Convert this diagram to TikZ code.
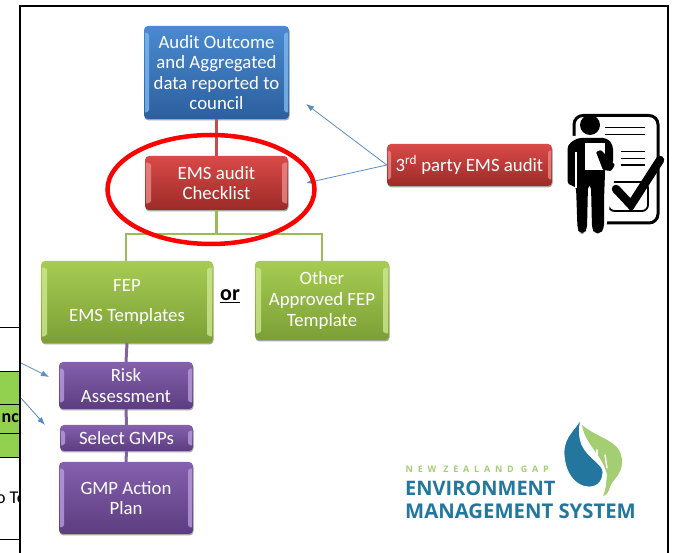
\documentclass[tikz,border=0pt]{standalone}
\usepackage{fontspec}
\setmainfont{Carlito}
\newfontfamily\logofont{Open Sans}
\usetikzlibrary{arrows.meta,shadows}
\definecolor{blueT}{HTML}{4A8AD0}\definecolor{blueB}{HTML}{2C5F9E}\definecolor{blueL}{HTML}{7DB8EE}
\definecolor{redT}{HTML}{D94A48}\definecolor{redB}{HTML}{9C2A28}\definecolor{redL}{HTML}{E88A88}
\definecolor{greenT}{HTML}{A6CC52}\definecolor{greenB}{HTML}{7C9F36}\definecolor{greenL}{HTML}{CDE78E}
\definecolor{purpT}{HTML}{8560AE}\definecolor{purpB}{HTML}{5C3D80}\definecolor{purpL}{HTML}{B79DDA}
\definecolor{arrowblue}{HTML}{5B8DC4}\definecolor{logoblue}{HTML}{23779F}\definecolor{logogreen}{HTML}{A3CF72}
\definecolor{cellgreen}{HTML}{92D050}\definecolor{linkredc}{HTML}{C0504D}\definecolor{linkgreenc}{HTML}{9BBB59}\definecolor{linkpurpc}{HTML}{8064A2}
\tikzset{
  glossy/.style n args={5}{draw=none,rounded corners=4pt,inner sep=0pt,
    top color=#1T,bottom color=#1B,text=white,align=center,
    font=\fontsize{18.8}{20.6}\selectfont,
    minimum width=#2pt,minimum height=#3pt,
    drop shadow={shadow xshift=0.5pt,shadow yshift=-1.5pt,opacity=.35,fill=black},
    path picture={
      \fill[#1L,opacity=.8,rounded corners=1pt]
        ([xshift=1pt,yshift=-#4pt]path picture bounding box.north west) --
        ([xshift=1pt,yshift=#4pt]path picture bounding box.south west) --
        ([xshift=#5pt,yshift=#4pt+2pt]path picture bounding box.south west) --
        ([xshift=#5pt,yshift=-#4pt-2pt]path picture bounding box.north west) -- cycle;
      \fill[#1L,opacity=.8,rounded corners=1pt]
        ([xshift=-1pt,yshift=-#4pt]path picture bounding box.north east) --
        ([xshift=-1pt,yshift=#4pt]path picture bounding box.south east) --
        ([xshift=-#5pt,yshift=#4pt+2pt]path picture bounding box.south east) --
        ([xshift=-#5pt,yshift=-#4pt-2pt]path picture bounding box.north east) -- cycle;
    }},
  linkred/.style={draw=linkredc,line width=2.6pt},
  linkgreen/.style={draw=linkgreenc,line width=2.6pt},
  linkpurple/.style={draw=linkpurpc,line width=3pt},
  callout/.style={draw=arrowblue,line width=.8pt,-{Latex[length=8pt,width=6pt]}},
  framebar/.style={draw=black,line width=2pt},
  tablerule/.style={draw=black,line width=.8pt},
  iconline/.style={draw=black,line width=1.4pt},
}
\begin{document}
\begin{tikzpicture}[x=1pt,y=-1pt]
\useasboundingbox (0,0) rectangle (673,553);
% table behind the frame
\fill[cellgreen] (0,371) rectangle (20,457);
\draw[tablerule] (0,327) -- (20,327);
\draw[tablerule] (0,371) -- (20,371);
\draw[tablerule] (0,404) -- (20,404);
\draw[tablerule] (0,433) -- (20,433);
\draw[tablerule] (0,457) -- (20,457);
\draw[tablerule] (0,539) -- (20,539);
\begin{scope}
\clip (0,360) rectangle (20,553);
\node[anchor=east,inner sep=0pt,font=\fontsize{18}{20}\selectfont\bfseries] (cellnc) at (19,418) {nc};
\node[anchor=east,inner sep=0pt,font=\fontsize{18}{20}\selectfont] (cellte) at (26,498) {o Te};
\end{scope}
% frame
\draw[framebar] (20,553) -- (20,6) -- (668,6) -- (668,553);
% boxes
\node[glossy={blue}{145}{93}{6}{5}] (audit) at (216.5,72.5) {Audit Outcome\\and Aggregated\\data reported to\\council};
\node[glossy={red}{143}{54}{6}{6}] (check) at (216.5,183) {EMS audit\\Checklist};
\node[glossy={red}{165}{42}{6}{4}] (third) at (469.5,165) {3\textsuperscript{rd} party EMS audit};
\node[glossy={green}{172}{82}{6}{6}] (fep) at (127,302) {FEP\\[9pt]EMS Templates};
\node[glossy={green}{134}{79}{6}{6}] (other) at (322,300.5) {Other\\Approved FEP\\Template};
\node[glossy={purp}{134}{47}{6}{5}] (risk) at (126,385.5) {Risk\\Assessment};
\node[glossy={purp}{133}{26}{5}{5}] (gmps) at (126.5,438) {Select GMPs};
\node[glossy={purp}{134}{72}{6}{5}] (plan) at (126,498) {GMP Action\\Plan};
\node[font=\fontsize{22}{24}\selectfont\bfseries,inner sep=0pt] (or) at (230,296) {\underline{or}};
% connectors
\draw[linkred] (audit.south) -- (check.north);
\coordinate (busL) at (126,234);
\coordinate (busR) at (322,234);
\coordinate (busM) at (216.5,234);
\draw[linkgreen] (check.south) -- (busM);
\draw[linkgreen] (fep.north -| busL) -- (busL) -- (busR) -- (other.north -| busR);
\draw[linkpurple] (fep.south) -- (risk.north);
\draw[linkpurple] (risk.south) -- (gmps.north);
\draw[linkpurple] (gmps.south) -- (plan.north);
% callouts
\coordinate (tipA) at (306,104);
\coordinate (tipB) at (306,183);
\draw[callout] (third.west) -- (tipA);
\draw[callout] (third.west) -- (tipB);
\coordinate (leftA) at (21,363);
\coordinate (tipC) at (49,377);
\coordinate (leftB) at (21,398);
\coordinate (tipD) at (45,425);
\draw[callout] (leftA) -- (tipC);
\draw[callout] (leftB) -- (tipD);
% red ellipse
\draw[red,line width=4.5pt] (211,189.5) ellipse [x radius=103.5,y radius=54.5];
% checklist icon
\draw[black,line width=3pt,rounded corners=9pt] (574,115.5) rectangle (658,223);
\draw[iconline] (605,127.5) -- (645,127.5);
\draw[iconline] (605,134.5) -- (645,134.5);
\draw[iconline] (621,151.5) -- (645,151.5);
\draw[iconline] (621,158.5) -- (645,158.5);
\draw[iconline] (621,165) -- (645,165);
\draw[black,line width=1.8pt,rounded corners=6pt] (608.5,182) rectangle (648,211);
% person with white halo
\fill[white] (566,136) -- (614,136) -- (615,175) -- (606,228) -- (574,236) -- (566,190) -- cycle;
\fill[black] (590,125) circle (10);
\fill[black,rounded corners=4pt] (567.5,185) -- (567.5,145) -- (577,138) -- (607,138) -- (613,145) -- (613,165) -- (605,165) -- (605,173) -- (604,200) -- (604,229) -- (600,233.5) -- (595,233.5) -- (592,229) -- (591,185) -- (588,185) -- (587,229) -- (584,233.5) -- (580,233.5) -- (577.5,229) -- (576,186) -- cycle;
\fill[white] (585,143.5) rectangle (605,170);
\fill[black,rounded corners=1pt] (596,152) -- (601,150) -- (615,165) -- (611,171) -- (603,170) -- cycle;
\draw[white,line width=1.4pt] (576,152) -- (576,188);
\draw[black,line width=8.5pt,line cap=round,line join=miter] (616,189) -- (631,205) -- (660,160);
% logo
\fill[logogreen] (582,425) .. controls (600,440) and (622,440) .. (622,462) .. controls (622,475) and (612,480) .. (610,487) .. controls (609,491) and (607,495) .. (603,496) .. controls (606,490) and (606,484) .. (607,475) .. controls (603,455) and (585,445) .. (582,425) -- cycle;
\foreach \a/\b/\c/\d in {585/442/587/453,597/450/597/462,605/455/607/468}{\draw[white,line width=1.4pt,line cap=round] (\a,\b) -- (\c,\d);}
\fill[logoblue,draw=white,line width=.8pt] (582,416) .. controls (578,428) and (564,435) .. (564,452) .. controls (564,472) and (575,487) .. (589,487) .. controls (600,487) and (603,478) .. (603,472) .. controls (603,464) and (588,458) .. (582,445) .. controls (578,435) and (579,425) .. (582,416) -- cycle;
\node[anchor=west,inner sep=0pt,text=logogreen,font=\logofont\bfseries\fontsize{9}{10}\selectfont\addfontfeature{LetterSpace=53}] (lognz) at (405.5,469) {NEW ZEALAND GAP};
\node[anchor=west,inner sep=0pt,text=logoblue,font=\logofont\bfseries\fontsize{20}{22}\selectfont] (logenv) at (405,488) {ENVIRONMENT};
\node[anchor=west,inner sep=0pt,text=logoblue,font=\logofont\bfseries\fontsize{20.3}{22}\selectfont] (logmgt) at (405,511) {MANAGEMENT SYSTEM};
\end{tikzpicture}
\end{document}
